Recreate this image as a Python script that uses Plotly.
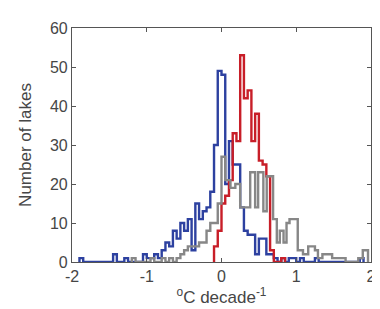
import plotly.graph_objects as go

# Blue series: bins of width 0.05 starting at -1.90
blue_start = -1.90
blue_width = 0.05
blue_counts = [1, 0, 0, 0, 0, 0, 0, 0, 0, 2,   # -1.90 .. -1.45
               0, 0, 1, 0, 0, 0, 0, 2, 1, 1,   # -1.40 .. -0.95
               2, 1, 3, 5, 4, 8, 6, 10, 8, 11,  # -0.90 .. -0.45
               3, 15, 11, 13, 14, 18, 30, 49, 48, 20,  # -0.40 .. 0.05
               31, 25, 25, 14, 8, 7, 7, 2, 6, 6,  # 0.10 .. 0.55
               2, 2, 1, 0, 1, 0, 1, 1, 0, 1,      # 0.60 .. 1.05
               0, 0, 0, 1, 0, 0, 0, 0, 0, 0,      # 1.10 .. 1.55
               0, 0, 0, 0, 0, 1]                  # 1.60 .. 1.85

# Red series: bins of width 0.05 starting at -0.10
red_start = -0.10
red_width = 0.05
red_counts = [4, 8, 15, 17, 21, 33, 31, 53, 42, 44, 31, 38, 26, 25, 22, 3, 0, 0, 1]

# Gray series: bin edges and counts as read
gray_edges = [-1.20, -1.15, -0.95, -0.90, -0.80, -0.75, -0.70, -0.65, -0.60, -0.55,
              -0.50, -0.45, -0.40, -0.35, -0.30, -0.25, -0.20, -0.15, -0.10, -0.05,
              0.00, 0.05, 0.12, 0.185, 0.25, 0.32, 0.384, 0.45, 0.49, 0.56,
              0.605, 0.69, 0.74, 0.78, 0.83, 0.87, 0.91, 1.02, 1.09, 1.16,
              1.25, 1.29, 1.35, 1.48, 1.59, 1.66, 1.83, 1.89, 1.96]
gray_counts = [1, 0, 1, 0, 1, 0, 1, 0, 1, 2,
               3, 4, 4, 4, 5, 5, 8, 10, 10, 15,
               27, 21, 19, 20, 14, 14, 23, 14, 23, 13,
               22, 11, 5, 8, 5, 10, 11, 3, 2, 4,
               3, 1, 2, 1, 1, 0, 1, 3]

x_ticks = [-2, -1, 0, 1, 2]
y_ticks = [0, 10, 20, 30, 40, 50, 60]

BLUE = "rgb(45,65,160)"
RED = "rgb(200,30,40)"
GRAY = "rgb(135,135,135)"
FONT = "Liberation Sans, Arial, sans-serif"
TXT = "rgb(70,70,70)"


def uniform_edges(start, width, n):
    return [round(start + i * width, 6) for i in range(n + 1)]


def stairs(edges, counts):
    xs = [edges[0]]
    ys = [0]
    for e, c in zip(edges[:-1], counts):
        xs.append(e)
        ys.append(c)
    xs.append(edges[-1])
    ys.append(0)
    return xs, ys


fig = go.Figure()
series = [
    (uniform_edges(blue_start, blue_width, len(blue_counts)), blue_counts, BLUE),
    (uniform_edges(red_start, red_width, len(red_counts)), red_counts, RED),
    (gray_edges, gray_counts, GRAY),
]
for edges, counts, col in series:
    xs, ys = stairs(edges, counts)
    fig.add_trace(go.Scatter(x=xs, y=ys, mode="lines", line=dict(color=col, width=2.4, shape="hv"),
                             showlegend=False, hoverinfo="skip"))

axis_common = dict(showgrid=False, zeroline=False, showline=True, linecolor="rgb(85,85,85)",
                   linewidth=1.2, mirror="ticks", ticks="inside", ticklen=4, tickwidth=1,
                   tickcolor="rgb(85,85,85)",
                   tickfont=dict(family=FONT, size=16, color=TXT))

fig.update_xaxes(range=[-2, 2], tickvals=x_ticks, ticktext=[str(v) for v in x_ticks],
                 title=dict(text="<sup>o</sup>C decade<sup>-1</sup>", standoff=2,
                            font=dict(family=FONT, size=17, color=TXT)),
                 **axis_common)
fig.update_yaxes(range=[0, 60], tickvals=y_ticks, ticktext=[str(v) for v in y_ticks],
                 title=dict(text="Number of lakes", standoff=13,
                            font=dict(family=FONT, size=17, color=TXT)),
                 **axis_common)

fig.update_layout(width=380, height=309, margin=dict(l=64, r=13, t=12, b=55),
                  plot_bgcolor="white", paper_bgcolor="white")

fig.write_html("out.html")
